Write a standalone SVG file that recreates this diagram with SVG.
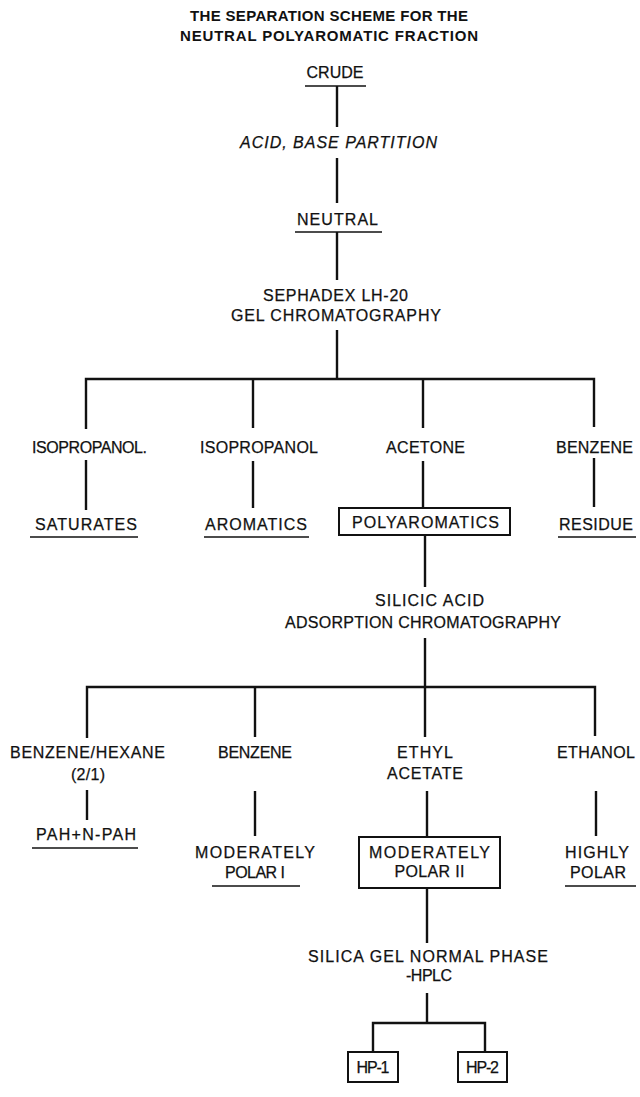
<svg xmlns="http://www.w3.org/2000/svg" width="640" height="1097" viewBox="0 0 640 1097">
<style>
text{font-family:"Liberation Sans",Arial,sans-serif;font-size:16px;fill:#111;stroke:#111;stroke-width:0.25;text-anchor:middle}
.title{font-weight:bold;font-size:15px;stroke-width:0}
.it{font-style:italic}
.c line,.c polyline{stroke:#111;stroke-width:2.4;fill:none}
.ul{stroke:#111;stroke-width:1.6}
.box{fill:none;stroke:#111;stroke-width:2}
</style>
<rect width="640" height="1097" fill="#fff"/>
<g id="title">
<text class="title" x="329" y="21" textLength="278" lengthAdjust="spacing">THE SEPARATION SCHEME FOR THE</text>
<text class="title" x="329" y="41" textLength="298" lengthAdjust="spacing">NEUTRAL POLYAROMATIC FRACTION</text>
</g>
<g class="c" id="connectors">
<line x1="337" y1="86" x2="337" y2="127"/>
<line x1="337" y1="158" x2="337" y2="203"/>
<line x1="337" y1="232" x2="337" y2="280"/>
<line x1="337" y1="330" x2="337" y2="379"/>
<polyline points="86,429 86,379 594,379 594,427"/>
<line x1="253" y1="379" x2="253" y2="428"/>
<line x1="423" y1="379" x2="423" y2="428"/>
<line x1="86" y1="460" x2="86" y2="510"/>
<line x1="253" y1="461" x2="253" y2="508"/>
<line x1="423" y1="461" x2="423" y2="508"/>
<line x1="594" y1="458" x2="594" y2="507"/>
<line x1="425" y1="535" x2="425" y2="587"/>
<line x1="425" y1="638" x2="425" y2="687"/>
<polyline points="87,738 87,687 595,687 595,736"/>
<line x1="255" y1="687" x2="255" y2="737"/>
<line x1="425" y1="687" x2="425" y2="737"/>
<line x1="87" y1="790" x2="87" y2="820"/>
<line x1="255" y1="791" x2="255" y2="836"/>
<line x1="427" y1="791" x2="427" y2="837"/>
<line x1="596" y1="791" x2="596" y2="836"/>
<line x1="427" y1="888" x2="427" y2="943"/>
<line x1="427" y1="993" x2="427" y2="1023"/>
<polyline points="373,1052 373,1023 485,1023 485,1052"/>
</g>
<g id="crude">
<text x="335" y="78" textLength="57" lengthAdjust="spacing">CRUDE</text>
<line class="ul" x1="305" y1="86" x2="366" y2="86"/>
</g>
<g id="acid-base">
<text class="it" x="338.5" y="148" textLength="197" lengthAdjust="spacing">ACID, BASE PARTITION</text>
</g>
<g id="neutral">
<text x="337.5" y="225" textLength="81" lengthAdjust="spacing">NEUTRAL</text>
<line class="ul" x1="295" y1="232" x2="382" y2="232"/>
</g>
<g id="sephadex">
<text x="335.5" y="301" textLength="145" lengthAdjust="spacing">SEPHADEX LH-20</text>
<text x="336" y="321" textLength="210" lengthAdjust="spacing">GEL CHROMATOGRAPHY</text>
</g>
<g id="isopropanol1"><text x="89.5" y="453" textLength="115" lengthAdjust="spacing">ISOPROPANOL.</text></g>
<g id="isopropanol2"><text x="259" y="453" textLength="118" lengthAdjust="spacing">ISOPROPANOL</text></g>
<g id="acetone"><text x="425.5" y="453" textLength="79" lengthAdjust="spacing">ACETONE</text></g>
<g id="benzene1"><text x="594.5" y="453" textLength="77" lengthAdjust="spacing">BENZENE</text></g>
<g id="saturates">
<text x="86" y="530" textLength="102" lengthAdjust="spacing">SATURATES</text>
<line class="ul" x1="30" y1="537" x2="138" y2="537"/>
</g>
<g id="aromatics">
<text x="256" y="530" textLength="102" lengthAdjust="spacing">AROMATICS</text>
<line class="ul" x1="204" y1="537" x2="309" y2="537"/>
</g>
<g id="polyaromatics">
<rect class="box" x="339" y="508" width="171" height="27"/>
<text x="425.5" y="528" textLength="147" lengthAdjust="spacing">POLYAROMATICS</text>
</g>
<g id="residue">
<text x="596" y="530" textLength="74" lengthAdjust="spacing">RESIDUE</text>
<line class="ul" x1="558" y1="537" x2="636" y2="537"/>
</g>
<g id="silicic">
<text x="429.5" y="606" textLength="109" lengthAdjust="spacing">SILICIC ACID</text>
<text x="423" y="628" textLength="276" lengthAdjust="spacing">ADSORPTION CHROMATOGRAPHY</text>
</g>
<g id="benzene-hexane">
<text x="87.5" y="758" textLength="155" lengthAdjust="spacing">BENZENE/HEXANE</text>
<text x="88" y="780" textLength="34" lengthAdjust="spacing">(2/1)</text>
</g>
<g id="benzene2"><text x="255" y="758" textLength="74" lengthAdjust="spacing">BENZENE</text></g>
<g id="ethyl-acetate">
<text x="425" y="758" textLength="56" lengthAdjust="spacing">ETHYL</text>
<text x="425" y="779" textLength="76" lengthAdjust="spacing">ACETATE</text>
</g>
<g id="ethanol"><text x="596" y="758" textLength="78" lengthAdjust="spacing">ETHANOL</text></g>
<g id="pah">
<text x="86" y="840" textLength="100" lengthAdjust="spacing">PAH+N-PAH</text>
<line class="ul" x1="32" y1="848" x2="138" y2="848"/>
</g>
<g id="mod-polar-1">
<text x="255" y="858" textLength="120" lengthAdjust="spacing">MODERATELY</text>
<text x="255" y="878" textLength="60" lengthAdjust="spacing">POLAR I</text>
<line class="ul" x1="212" y1="886" x2="300" y2="886"/>
</g>
<g id="mod-polar-2">
<rect class="box" x="359" y="837" width="141" height="51"/>
<text x="429.5" y="858" textLength="121" lengthAdjust="spacing">MODERATELY</text>
<text x="429.5" y="877" textLength="70" lengthAdjust="spacing">POLAR II</text>
</g>
<g id="highly-polar">
<text x="597" y="858" textLength="64" lengthAdjust="spacing">HIGHLY</text>
<text x="598" y="878" textLength="56" lengthAdjust="spacing">POLAR</text>
<line class="ul" x1="565" y1="886" x2="636" y2="886"/>
</g>
<g id="silica-gel">
<text x="428" y="962" textLength="240" lengthAdjust="spacing">SILICA GEL NORMAL PHASE</text>
<text x="429" y="981" textLength="46" lengthAdjust="spacing">-HPLC</text>
</g>
<g id="hp1">
<rect class="box" x="348" y="1052" width="50" height="30"/>
<text x="373" y="1073" textLength="33" lengthAdjust="spacing">HP-1</text>
</g>
<g id="hp2">
<rect class="box" x="458" y="1052" width="49" height="30"/>
<text x="482.5" y="1073" textLength="33" lengthAdjust="spacing">HP-2</text>
</g>
</svg>
